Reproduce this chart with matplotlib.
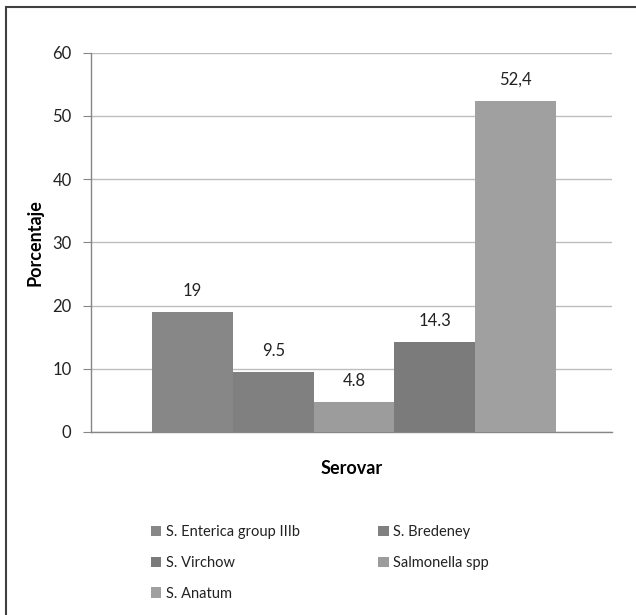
import matplotlib
matplotlib.use("Agg")
import matplotlib.pyplot as plt
from matplotlib.patches import Rectangle

serovars = ["S. Enterica group IIIb", "S. Bredeney", "Salmonella spp", "S. Virchow", "S. Anatum"]
porcentaje = [19, 9.5, 4.8, 14.3, 52.4]
etiquetas = ["19", "9.5", "4.8", "14.3", "52,4"]
colores = ["#878787", "#808080", "#9c9c9c", "#7b7b7b", "#a0a0a0"]
yticks = [0, 10, 20, 30, 40, 50, 60]

plt.rcParams['font.family'] = ['Lato', 'DejaVu Sans']

W, H = 636, 615
fig = plt.figure(figsize=(W / 100, H / 100), dpi=100)
ax = fig.add_axes([91 / W, 1 - 432 / H, (612 - 91) / W, (432 - 52.7) / H])

width = 0.155
handles = []
for i, (name, val, lab, col) in enumerate(zip(serovars, porcentaje, etiquetas, colores)):
    x = (i - 2) * width + 0.005
    b = ax.bar(x, val, width=width, color=col, zorder=3, label=name)
    handles.append(b)
    ax.text(x, val + 2.0, lab, ha='center', va='bottom', fontsize=12, color='#222222')

ax.set_xlim(-0.5, 0.5)
ax.set_ylim(0, 60)
ax.set_yticks(yticks)
ax.set_xticks([])
ax.tick_params(axis='y', length=6, color='#868686', labelsize=12, labelcolor='#222222', pad=8)
ax.yaxis.grid(True, color='#bdbdbd', linewidth=1, zorder=0)
for s in ['top', 'right']:
    ax.spines[s].set_visible(False)
for s in ['left', 'bottom']:
    ax.spines[s].set_color('#868686')
    ax.spines[s].set_linewidth(1)

ax.set_ylabel("Porcentaje", fontsize=13, fontweight='bold', labelpad=6)
ax.set_xlabel("Serovar", fontsize=13, fontweight='bold', labelpad=20)

# order so that legend reads row by row like the original
order = [0, 3, 4, 1, 2]
leg = fig.legend([handles[i] for i in order], [serovars[i] for i in order],
                 ncol=2, loc='upper left', bbox_to_anchor=(138 / W, 1 - 512 / H),
                 frameon=False, fontsize=10.5, handlelength=0.7, handleheight=0.7,
                 handletextpad=0.3, columnspacing=5.4, labelspacing=1.15,
                 labelcolor='#222222')

fig.add_artist(Rectangle((6 / W, -0.1), 1.2, (H - 7) / H + 0.1, transform=fig.transFigure,
                         fill=False, edgecolor='#404040', linewidth=1.5))

fig.savefig("out.png", dpi=100)
